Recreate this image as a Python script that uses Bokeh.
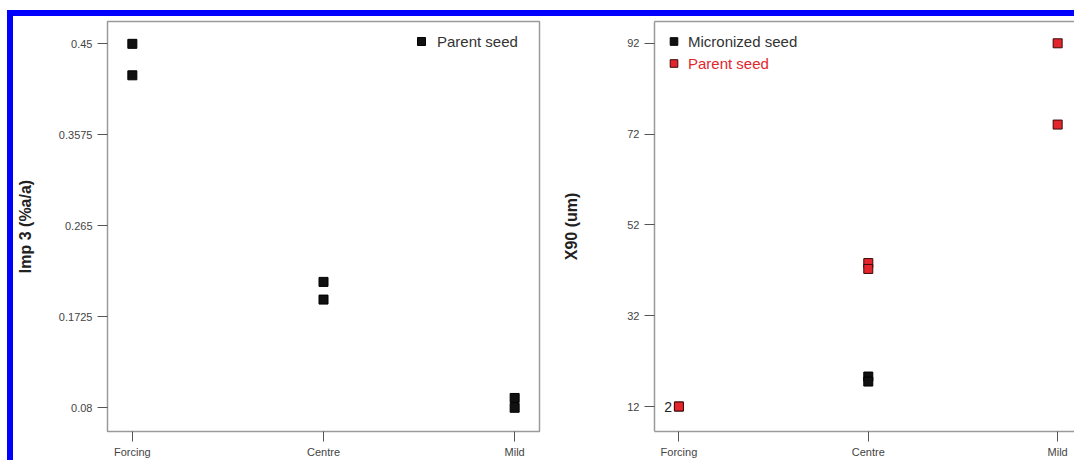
from bokeh.plotting import figure
from bokeh.layouts import row
from bokeh.models import FixedTicker, Legend, LegendItem, LinearAxis, Range1d
from bokeh.core.properties import value
from bokeh.embed import file_html
from bokeh.resources import INLINE

FONT = "Liberation Sans"

# ---------------- data ----------------
categories = ["Forcing", "Centre", "Mild"]

# Left panel: Imp 3 (%a/a), parent seed
imp3_parent_cat = ["Forcing", "Forcing", "Centre", "Centre", "Mild", "Mild"]
imp3_parent = [0.45, 0.418, 0.208, 0.19, 0.09, 0.08]
imp3_ticks = [0.08, 0.1725, 0.265, 0.3575, 0.45]
imp3_tick_labels = ["0.08", "0.1725", "0.265", "0.3575", "0.45"]

# Right panel: X90 (um)
x90_parent_cat = ["Forcing", "Forcing", "Centre", "Centre", "Mild", "Mild"]
x90_parent = [12, 12, 43.6, 42.3, 92, 74.1]
x90_micro_cat = ["Centre", "Centre"]
x90_micro = [18.6, 17.5]
x90_ticks = [12, 32, 52, 72, 92]
x90_tick_labels = ["12", "32", "52", "72", "92"]
x90_count_cat = ["Forcing"]
x90_count_value = [12]
x90_count_text = ["2"]

RED = "#e3262e"
BLACK = "#111111"
FRAME = "#9a9a9a"
TICK = "#555555"
LABEL = "#444444"


def idx(cats):
    return [categories.index(c) for c in cats]


def style_axes(p, yticks, ylabels, ylabel, ystandoff):
    p.grid.visible = False
    p.xaxis.ticker = FixedTicker(ticks=list(range(len(categories))), minor_ticks=[])
    p.xaxis.major_label_overrides = {i: c for i, c in enumerate(categories)}
    p.yaxis.ticker = FixedTicker(ticks=yticks, minor_ticks=[])
    p.yaxis.major_label_overrides = {t: l for t, l in zip(yticks, ylabels)}
    for ax in (p.xaxis, p.yaxis):
        ax.major_tick_out = 10
        ax.major_tick_in = 0
        ax.minor_tick_line_color = None
        ax.major_tick_line_color = TICK
        ax.major_label_text_font = FONT
        ax.major_label_text_font_size = "11px"
        ax.major_label_text_color = LABEL
    p.xaxis.major_label_standoff = 4
    p.yaxis.major_label_standoff = 5
    p.yaxis.axis_label = ylabel
    p.yaxis.axis_label_text_font = FONT
    p.yaxis.axis_label_text_font_style = "bold"
    p.yaxis.axis_label_text_font_size = "16px"
    p.yaxis.axis_label_text_color = "#222222"
    p.yaxis.axis_label_standoff = ystandoff


def make_legend(items, color, location):
    lg = Legend(items=items, location=location)
    lg.margin = 10
    lg.padding = 0
    lg.spacing = 2
    lg.glyph_width = 19
    lg.glyph_height = 20
    lg.label_standoff = 5
    lg.label_text_font = FONT
    lg.label_text_font_size = "15px"
    lg.label_text_color = color
    lg.background_fill_alpha = 0
    lg.border_line_color = None
    return lg


# ---------------- left panel ----------------
p1 = figure(width=547, height=444, x_range=Range1d(-0.13, 2.13),
            y_range=Range1d(0.0559, 0.4727), output_backend="svg",
            toolbar_location=None, min_border_left=91, min_border_right=21,
            min_border_top=5, min_border_bottom=0)
p1.outline_line_color = FRAME
p1.outline_line_width = 1.5
style_axes(p1, imp3_ticks, imp3_tick_labels, "Imp 3 (%a/a)", 22)
p1.xaxis.axis_line_color = None
p1.yaxis.axis_line_color = None

r1 = p1.scatter(idx(imp3_parent_cat), imp3_parent, marker="square", size=9,
                fill_color=BLACK, line_color="#000000", line_width=1)
lg1 = make_legend([LegendItem(label="Parent seed", renderers=[r1])], "#333333", "top_right")
lg1.glyph_width = 22
lg1.label_width = 92
p1.add_layout(lg1)

# ---------------- right panel ----------------
p2 = figure(width=514, height=444, x_range=Range1d(-0.129, 2.089),
            y_range=Range1d(6.5, 96.8), output_backend="svg",
            toolbar_location=None, min_border_left=93, min_border_right=0,
            min_border_top=3, min_border_bottom=0)
p2.outline_line_color = None
style_axes(p2, x90_ticks, x90_tick_labels, "X90 (um)", 44)
p2.xaxis.axis_line_color = FRAME
p2.yaxis.axis_line_color = FRAME
p2.xaxis.axis_line_width = 1.5
p2.yaxis.axis_line_width = 1.5
top_axis = LinearAxis(ticker=FixedTicker(ticks=[], minor_ticks=[]),
                      major_tick_out=0, major_tick_in=0, minor_tick_out=0,
                      major_label_standoff=0, major_label_text_font_size="0px",
                      axis_line_color=FRAME, axis_line_width=1.5)
p2.add_layout(top_axis, "above")

rm = p2.scatter(idx(x90_micro_cat), x90_micro, marker="square", size=9,
                fill_color=BLACK, line_color="#000000", line_width=1)
rp = p2.scatter(idx(x90_parent_cat), x90_parent, marker="square", size=9,
                fill_color=RED, line_color="#3a0a0a", line_width=1)
p2.text(idx(x90_count_cat), x90_count_value, text=x90_count_text, x_offset=-7,
        text_align="right", text_baseline="middle", text_font=value(FONT),
        text_font_size="14px", text_color="#1a261a")
dummy = p2.scatter([], [], marker="square", size=9, fill_alpha=0, line_alpha=0)

lg2a = make_legend([LegendItem(label="Micronized seed", renderers=[rm])], "#333333", "top_left")
lg2b = make_legend([LegendItem(label=" ", renderers=[dummy]),
                    LegendItem(label="Parent seed", renderers=[rp])], RED, "top_left")
p2.add_layout(lg2a)
p2.add_layout(lg2b)

layout = row(p1, p2, styles={"border-top": "6px solid #0000ff",
                             "border-left": "6px solid #0000ff",
                             "margin-top": "10px",
                             "margin-left": "7px"})

open("out.html", "w").write(file_html(layout, INLINE))
